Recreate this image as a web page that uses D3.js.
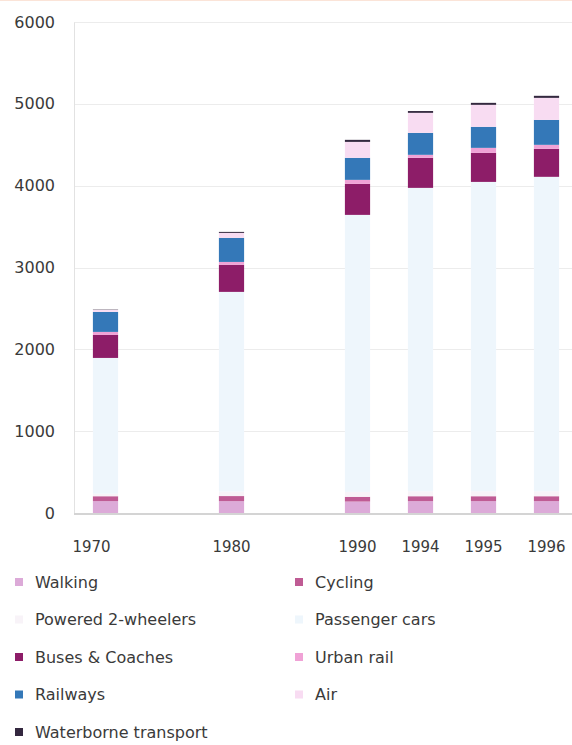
<!DOCTYPE html>
<html>
<head>
<meta charset="utf-8">
<script src="https://cdn.jsdelivr.net/npm/d3@7"></script>
<style>
  html, body {margin: 0; padding: 0; background: #fff;}
  #chart {width: 572px; height: 745px;}
  text {font-family: "DejaVu Sans", Verdana, sans-serif; fill: #3a3a3a;}
</style>
</head>
<body>
<div id="chart"></div>
<script>
// x categories, the blank slots keep the gaps between 1970, 1980 and 1990
const slots = ['1970', '_a', '1980', '_b', '1990', '1994', '1995', '1996'];
const years = ['1970', '1980', '1990', '1994', '1995', '1996'];
const yTicks = [0, 1000, 2000, 3000, 4000, 5000, 6000];

// values (billion passenger-km)
const walking            = [145, 145, 140, 145, 145, 145];
const cycling            = [60, 62, 58, 60, 60, 60];
const poweredTwoWheelers = [30, 55, 60, 60, 60, 60];
const passengerCars      = [1660, 2440, 3385, 3708, 3781, 3843];
const busesCoaches       = [281, 330, 379, 367, 355, 342];
const urbanRail          = [37, 36, 49, 37, 61, 49];
const railways           = [244, 294, 269, 268, 257, 305];
const air                = [25, 61, 195, 245, 269, 269];
const waterborne         = [4, 12, 25, 22, 24, 25];

const seriesNames = ['Walking', 'Cycling', 'Powered 2-wheelers', 'Passenger cars',
                     'Buses & Coaches', 'Urban rail', 'Railways', 'Air', 'Waterborne transport'];
const seriesValues = [walking, cycling, poweredTwoWheelers, passengerCars,
                      busesCoaches, urbanRail, railways, air, waterborne];

const chart = {};

chart.create = function(config){
  chart.config = config;
  this.config.margin = {top: 22, right: -6, bottom: 232, left: 74};
  this.config.width_svg = 572;
  this.config.height_svg = 745;
  this.config.colorRule = {
    'Walking': '#dcaad8',
    'Cycling': '#bf5b94',
    'Powered 2-wheelers': '#f8f3f8',
    'Passenger cars': '#eef6fc',
    'Buses & Coaches': '#8d1d68',
    'Urban rail': '#f0a2d6',
    'Railways': '#3478b8',
    'Air': '#f8dcf2',
    'Waterborne transport': '#34283f',
  };
  this.config.svg = d3.select(`#${this.config.target}`)
                      .append('svg')
                      .attr('width', this.config.width_svg)
                      .attr('height', this.config.height_svg);
  this.update();
}

chart.update = function(){
  let margin = this.config.margin,
      width_svg = this.config.width_svg,
      height_svg = this.config.height_svg,
      colorRule = this.config.colorRule,
      svg = this.config.svg.append('g').attr('id', 'g_container');

  // table for the stack: one row per year
  let table = years.map((y, i) => {
    let row = {year: y};
    seriesNames.forEach((name, k) => row[name] = seriesValues[k][i]);
    return row;
  });
  let stacked = d3.stack().keys(seriesNames)(table);

  let xScale = d3.scaleBand()
                .domain(slots)
                .range([margin.left, width_svg - margin.right])
                .paddingInner(0.6)
                .paddingOuter(0.3);
  let yScale = d3.scaleLinear()
                .domain([0, 6000])
                .range([height_svg - margin.bottom, margin.top]);

  // faint strip on the very top edge
  svg.append('line')
     .attr('x1', 0).attr('x2', width_svg)
     .attr('y1', 0.5).attr('y2', 0.5)
     .attr('stroke', '#fbe4d8');

  // grid lines
  svg.append('g')
     .attr('id', 'g_grid')
     .selectAll('line')
     .data(yTicks.slice(1))
     .enter().append('line')
             .attr('x1', margin.left)
             .attr('x2', width_svg)
             .attr('y1', d => Math.round(yScale(d)) + 0.5)
             .attr('y2', d => Math.round(yScale(d)) + 0.5)
             .attr('stroke', '#ececec');

  let yAxis = g => g.attr('transform', `translate(${margin.left}, 0)`)
                  .call(d3.axisLeft(yScale).tickValues(yTicks).tickSize(0).tickPadding(19).tickFormat(d3.format('d')))
                  .call(g => g.select('.domain').attr('stroke', '#e2e2e2'))
                  .call(g => g.selectAll('.tick text')
                              .attr('font-size', 16)
                              .attr('font-family', null));

  let xAxis = g => g.attr('transform', `translate(0, ${height_svg - margin.bottom})`)
                  .call(d3.axisBottom(xScale).tickValues(years).tickSize(0).tickPadding(34))
                  .call(g => g.select('.domain').remove())
                  .call(g => g.selectAll('.tick text')
                              .attr('font-size', 15)
                              .attr('font-family', null)
                              .attr('dy', '0.32em')
                              .attr('dx', d => d === '1970' ? -14 : 0));

  svg.append('g')
     .attr('id', 'g_yAxis')
     .call(yAxis);
  svg.append('g')
     .attr('id', 'g_xAxis')
     .call(xAxis);

  svg.append('g')
     .attr('id', 'g_bars')
     .selectAll('g')
     .data(stacked)
     .enter().append('g')
             .attr('fill', d => colorRule[d.key])
     .selectAll('rect')
     .data(d => d)
     .enter().append('rect')
             .attr('x', d => xScale(d.data.year))
             .attr('width', xScale.bandwidth())
             .attr('y', d => yScale(d[1]))
             .attr('height', d => yScale(d[0]) - yScale(d[1]));

  // baseline
  svg.append('line')
     .attr('x1', margin.left)
     .attr('x2', width_svg)
     .attr('y1', yScale(0) + 1)
     .attr('y2', yScale(0) + 1)
     .attr('stroke', '#d4d4d4')
     .attr('stroke-width', 2);

  // legend, two columns
  let legend = svg.append('g')
                  .attr('id', 'g_legend')
                  .selectAll('g')
                  .data(seriesNames)
                  .enter().append('g')
                          .attr('transform', (d, i) => `translate(${i % 2 ? 295 : 15}, ${582 + Math.floor(i / 2) * 37.5})`);
  legend.append('rect')
        .attr('x', 0)
        .attr('y', -4)
        .attr('width', 8)
        .attr('height', 8)
        .attr('fill', d => colorRule[d]);
  legend.append('text')
        .attr('x', 20)
        .attr('dy', '0.35em')
        .attr('font-size', 16)
        .text(d => d);
}

chart.create({target: 'chart'});
</script>
</body>
</html>
